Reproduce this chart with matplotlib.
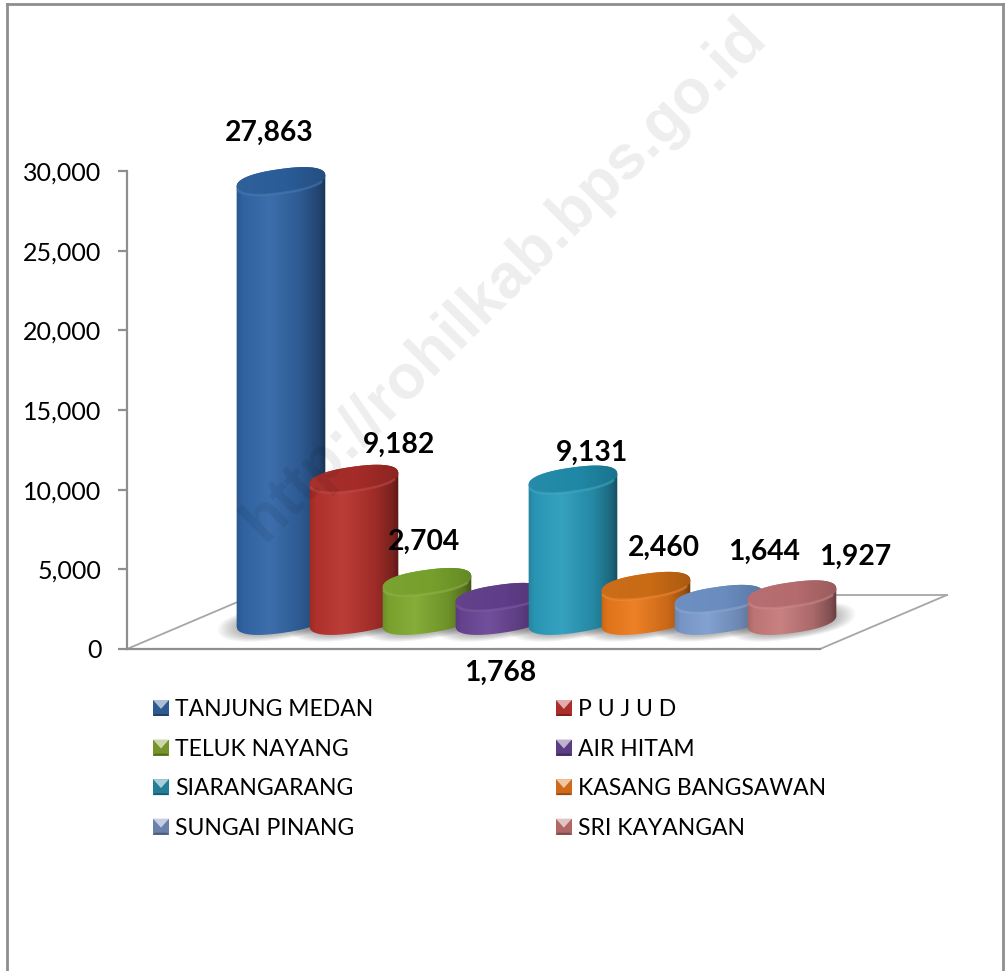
import numpy as np
import matplotlib
matplotlib.use("Agg")
import matplotlib.pyplot as plt
from matplotlib.colors import LinearSegmentedColormap, to_rgb
from matplotlib.legend_handler import HandlerBase
from matplotlib.lines import Line2D
from matplotlib.patches import Polygon, Patch
from matplotlib.path import Path
from matplotlib.ticker import FuncFormatter

# ---------- data ----------
categories = ["TANJUNG MEDAN", "P U J U D", "TELUK NAYANG", "AIR HITAM",
              "SIARANGARANG", "KASANG BANGSAWAN", "SUNGAI PINANG", "SRI KAYANGAN"]
values = [27863, 9182, 2704, 1768, 9131, 2460, 1644, 1927]
y_ticks = [0, 5000, 10000, 15000, 20000, 25000, 30000]

# ---------- styles ----------
body_mid = ["#3367a8", "#b8332e", "#7fa92f", "#6b4696", "#2b9dbd", "#ec7a1c", "#7d9dcf", "#c67a7b"]
top_col = ["#2a5c98", "#a42b27", "#76a02c", "#5f3d88", "#1f88a6", "#c96a14", "#6a8cbf", "#b56b6d"]
legend_col = ["#2f5f99", "#b5302c", "#7d9c2c", "#60408a", "#26849f", "#d9701a", "#6f88b4", "#b96c6c"]
label_offsets_px = [(-12, 48), (45, 34), (-3, 40), (0, -76), (19, 27), (18, 38), (45, 47), (63, 37)]

FONT = "Lato"
W, H = 1006, 971
AX_L, AX_R, AX_T, AX_B = 127, 947, 171, 649
PX_PER_CAT = 73.0
FIRST_CENTER_PX = 281
PX_PER_VAL = (AX_B - AX_T) / 30000.0
BASE_LIFT_PX = 24
BASE_EXTRA_PX = 4
BAR_A, BAR_B, BAR_TILT, BAR_POW = 44.7, 12.0, np.radians(8), 2.35
FRONT_RIGHT_PX = 820
DEPTH_DX, DEPTH_DY = 127, 54
GREY = "#8e8e8e"

fig = plt.figure(figsize=(W / 100, H / 100), dpi=100, facecolor="white")
ax = fig.add_axes([AX_L / W, 1 - AX_B / H, (AX_R - AX_L) / W, (AX_B - AX_T) / H])
ax.set_xlim((AX_L - FIRST_CENTER_PX) / PX_PER_CAT, (AX_R - FIRST_CENTER_PX) / PX_PER_CAT)
ax.set_ylim(0, 30000)
ax.autoscale(False)
ax.patch.set_alpha(0)

dx = 1 / PX_PER_CAT
dy = 1 / PX_PER_VAL
x_left = ax.get_xlim()[0]
x_front_right = x_left + (FRONT_RIGHT_PX - AX_L) * dx

for s in ["top", "right"]:
    ax.spines[s].set_visible(False)
ax.spines["left"].set_color(GREY)
ax.spines["left"].set_linewidth(1.6)
ax.spines["bottom"].set_color(GREY)
ax.spines["bottom"].set_linewidth(1.6)
ax.spines["bottom"].set_bounds(x_left, x_front_right)
ax.set_xticks([])
ax.set_yticks(y_ticks)
ax.yaxis.set_major_formatter(FuncFormatter(lambda v, _: f"{int(v):,}"))
ax.tick_params(axis="y", length=6.5, width=1.6, color=GREY, labelsize=18, pad=12)
for t in ax.get_yticklabels():
    t.set_fontfamily(FONT)

# floor
back_y = DEPTH_DY * dy
ax.plot([x_left, x_left + DEPTH_DX * dx], [0, back_y], color="#a6a6a6", lw=1.3, zorder=1, clip_on=False)
ax.plot([x_front_right, x_front_right + DEPTH_DX * dx], [0, back_y], color="#a6a6a6", lw=1.3, zorder=1, clip_on=False)
ax.plot([x_left + DEPTH_DX * dx, x_front_right + DEPTH_DX * dx], [back_y, back_y], color="#a6a6a6", lw=1.3, zorder=1, clip_on=False)


def ell(tt, scale=1.0):
    a, b = BAR_A * scale, BAR_B * scale
    c = np.cos(tt)
    s = np.sin(tt)
    ux = a * np.sign(c) * np.abs(c) ** (2 / BAR_POW)
    uy = b * np.sign(s) * np.abs(s) ** (2 / BAR_POW)
    return (ux * np.cos(BAR_TILT) - uy * np.sin(BAR_TILT),
            ux * np.sin(BAR_TILT) + uy * np.cos(BAR_TILT))


def shade(col, f):
    c = np.array(to_rgb(col))
    return tuple(np.clip(c * f if f <= 1 else c + (1 - c) * (f - 1), 0, 1))


full = np.linspace(0, 2 * np.pi, 721)[:-1]
ex_all, _ = ell(full)
iR, iL = int(np.argmax(ex_all)), int(np.argmin(ex_all))
tR, tL = full[iR], full[iL]
if tR > np.pi:
    tR -= 2 * np.pi
lower = np.linspace(tL, tR + 2 * np.pi, 160)
upper = np.linspace(tR, tL, 160)
base_y = BASE_LIFT_PX * dy
body_base_y = (BASE_LIFT_PX + BASE_EXTRA_PX) * dy
half_w = (BAR_A + 3) * dx
half_h = (BAR_A * np.sin(BAR_TILT) + BAR_B + 4) * dy
grad = np.linspace(0, 1, 256)[None, :]

# soft floor shadow
for i in range(len(values)):
    for k, sc in enumerate(np.linspace(1.42, 1.02, 9)):
        ex, ey = ell(full, sc)
        ax.add_patch(Polygon(np.c_[i + ex * dx, body_base_y + (ey - 1) * dy], closed=True, fc="black",
                             alpha=0.03, ec="none", zorder=2, clip_on=False))

# cylinders
for i, (v, mid, topc) in enumerate(zip(values, body_mid, top_col)):
    z = 10 + i
    top_y = base_y + v
    lx, ly = ell(lower)
    ux, uy = ell(upper)
    xs = np.r_[i + lx * dx, i + ux * dx]
    ys = np.r_[body_base_y + ly * dy, top_y + uy * dy]
    body_path = Path(np.c_[xs, ys], closed=False)
    cmap = LinearSegmentedColormap.from_list("b", [
        (0.0, shade(mid, 0.78)), (0.1, shade(mid, 0.95)), (0.38, shade(mid, 1.05)),
        (0.72, shade(mid, 0.86)), (0.9, shade(mid, 0.66)), (1.0, shade(mid, 0.42))])
    extent = (i - half_w, i + half_w, body_base_y - half_h, top_y + half_h)
    im = ax.imshow(grad, cmap=cmap, extent=extent, aspect="auto", zorder=z, interpolation="bilinear")
    im.set_clip_box(fig.bbox)
    im.set_clip_path(body_path, transform=ax.transData)

    # top face
    fx, fy = ell(full)
    top_path = Path(np.c_[i + fx * dx, top_y + fy * dy], closed=False)
    cmap_top = LinearSegmentedColormap.from_list("t", [
        (0.0, shade(topc, 1.03)), (0.55, shade(topc, 1.0)), (1.0, shade(topc, 0.84))])
    im2 = ax.imshow(grad, cmap=cmap_top, extent=(i - half_w, i + half_w, top_y - half_h, top_y + half_h),
                    aspect="auto", zorder=z + 0.2, interpolation="bilinear")
    im2.set_clip_box(fig.bbox)
    im2.set_clip_path(top_path, transform=ax.transData)
    # soft bright rim along the front of the top face
    rim = np.linspace(tL + 0.25, tR + 2 * np.pi - 0.45, 60)
    rx, ry = ell(rim)
    ax.plot(i + rx * dx, top_y + ry * dy, color=shade(mid, 1.14), lw=1.8, alpha=0.5,
            zorder=z + 0.3, clip_on=False, solid_capstyle="round")

# data labels
for i, (v, off) in enumerate(zip(values, label_offsets_px)):
    ax.annotate(f"{v:,}", xy=(i, base_y + v), xytext=off, textcoords="offset pixels",
                ha="center", va="center", fontsize=20.3, fontweight="bold", family=FONT,
                color="black", zorder=40, annotation_clip=False)


# legend with bevelled swatches
class Bevel(HandlerBase):
    def create_artists(self, legend, orig, xd, yd, width, height, fontsize, trans):
        col = orig.get_facecolor()[:3]
        x0, y0, x1, y1 = -xd, -yd, -xd + width, -yd + height
        m = 0.3 * (x1 - x0)
        n = 0.3 * (y1 - y0)
        cx, cy = (x0 + x1) / 2, (y0 + y1) / 2
        faces = [
            ([(x0, y0), (x1, y0), (x1, y1), (x0, y1)], shade(col, 0.95)),
            ([(x0, y1), (x1, y1), (cx, cy - n * 0.2)], shade(col, 1.6)),
            ([(x0, y0), (x1, y0), (x1 - m * 0.4, y0 + n * 0.4), (x0 + m * 0.4, y0 + n * 0.4)], shade(col, 0.68)),
        ]
        return [Polygon(p, closed=True, fc=c, ec="none", transform=trans) for p, c in faces]


order = [0, 2, 4, 6, 1, 3, 5, 7]
handles = [Patch(facecolor=legend_col[j], label=categories[j]) for j in order]
leg_fs = 16.5
leg = fig.legend(handles=handles, loc="upper left", bbox_to_anchor=(153 / W, 1 - 699 / H),
                 bbox_transform=fig.transFigure, ncol=2, frameon=False, borderpad=0, borderaxespad=0,
                 handler_map={Patch: Bevel()}, handlelength=16 / (leg_fs / 0.72), handleheight=16 / (leg_fs / 0.72),
                 handletextpad=0.27, labelspacing=0.81, columnspacing=7.96,
                 prop={"family": FONT, "size": leg_fs})

# watermark
fig.text(505 / W, 1 - 279 / H, "http://rohilkab.bps.go.id", rotation=45, ha="center", va="center",
         rotation_mode="anchor", fontsize=45, fontweight="bold", family="Liberation Sans",
         color="black", alpha=0.07, zorder=50)

# outer frame (open at the bottom)
for xy in [((7, 7), (H, 4)), ((7, 1003), (4, 4)), ((1003, 1003), (4, H))]:
    fig.add_artist(Line2D([p / W for p in xy[0]], [1 - p / H for p in xy[1]], color=GREY, lw=2.0))

fig.savefig("out.png", dpi=100, facecolor="white")
